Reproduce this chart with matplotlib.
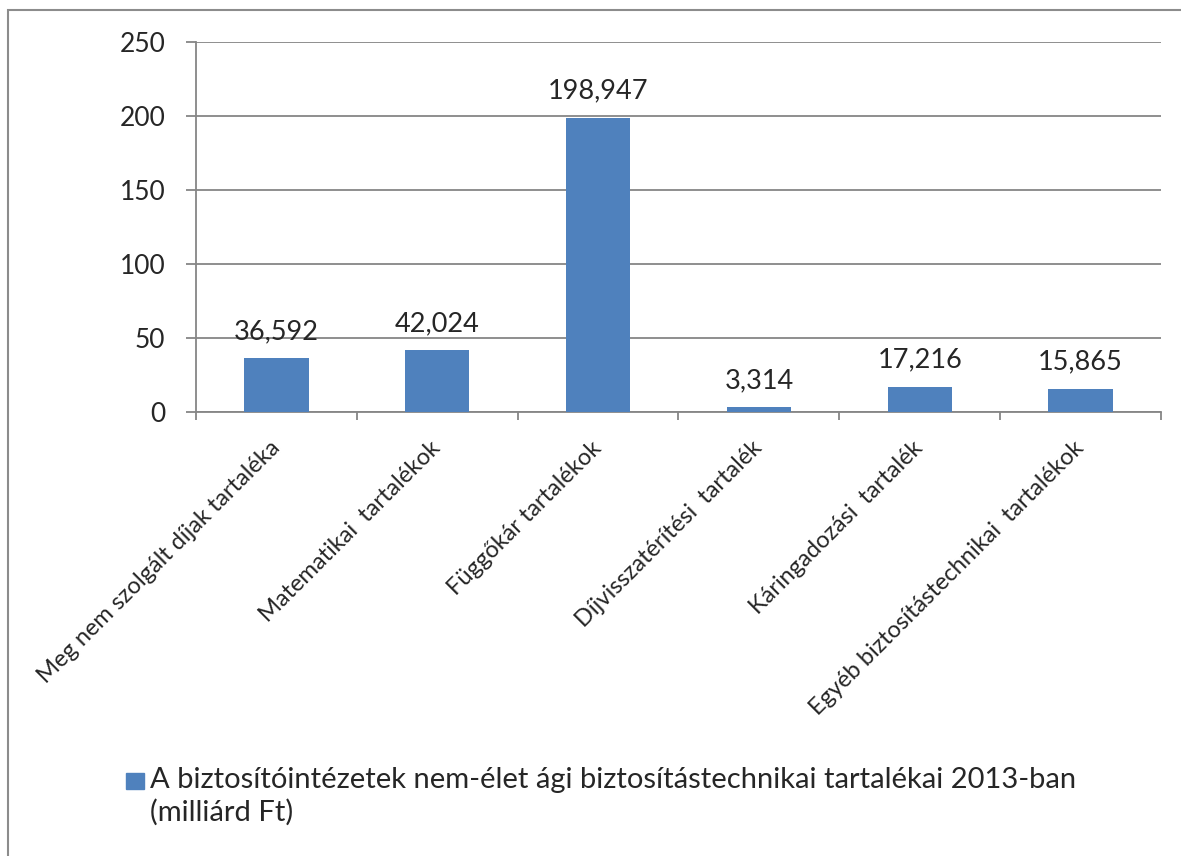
import matplotlib
matplotlib.use("Agg")
import matplotlib.pyplot as plt
from matplotlib.patches import Rectangle
import matplotlib.transforms as mtransforms

plt.rcParams["font.family"] = ["Lato", "DejaVu Sans"]

categories = [
    "Meg nem szolgált díjak tartaléka",
    "Matematikai  tartalékok",
    "Függőkár tartalékok",
    "Díjvisszatérítési  tartalék",
    "Káringadozási  tartalék",
    "Egyéb biztosítástechnikai  tartalékok",
]
values = [36.592, 42.024, 198.947, 3.314, 17.216, 15.865]
yticks = [0, 50, 100, 150, 200, 250]
legend_lines = [
    "A biztosítóintézetek nem-élet ági biztosítástechnikai tartalékai 2013-ban",
    "(milliárd Ft)",
]

bar_color = "#4F81BD"
grid_color = "#868686"
text_color = "#262626"

W, H = 1181, 856
fig = plt.figure(figsize=(W / 100, H / 100), dpi=100)
ax = fig.add_axes([196 / W, 1 - 412 / H, (1161 - 196) / W, 370 / H])

x = list(range(len(categories)))
bars = ax.bar(x, values, width=0.4, color=bar_color, zorder=3)

ax.set_xlim(-0.5, len(categories) - 0.5)
ax.set_ylim(0, 250)
ax.set_yticks(yticks)
ax.yaxis.grid(True, color=grid_color, linewidth=1.3, zorder=0)

for side in ["top", "right"]:
    ax.spines[side].set_visible(False)
for side in ["left", "bottom"]:
    ax.spines[side].set_color(grid_color)
    ax.spines[side].set_linewidth(1.3)

ax.tick_params(axis="y", direction="out", length=7, width=1.3, color=grid_color,
               labelsize=19, labelcolor=text_color, pad=15)

# tick marks sit on the category boundaries, labels at the centres
ax.set_xticks([i - 0.5 for i in range(len(categories) + 1)], minor=True)
ax.tick_params(axis="x", which="minor", direction="out", length=6, width=1.3, color=grid_color)
ax.set_xticks(x)
ax.tick_params(axis="x", which="major", length=0, pad=10)
ax.set_xticklabels(categories, rotation=45, ha="right", va="center",
                   rotation_mode="anchor", fontsize=17, color=text_color)
offset = mtransforms.ScaledTranslation(0, -19 / 100, fig.dpi_scale_trans)
for lbl in ax.get_xticklabels():
    lbl.set_transform(lbl.get_transform() + offset)

labels = [f"{v:.3f}".replace(".", ",") for v in values]
ax.bar_label(bars, labels=labels, padding=10, fontsize=19.5, color=text_color)

# legend
fig.patches.append(Rectangle((126 / W, 1 - 789 / H), 18 / W, 16 / H,
                             transform=fig.transFigure, color=bar_color))
for i, line in enumerate(legend_lines):
    fig.text(150 / W, 1 - (788 + 33 * i) / H, line, fontsize=21,
             color=text_color, va="baseline")

# outer chart border
fig.patches.append(Rectangle((8 / W, -0.1), 1.2, 1 - 10 / H + 0.1,
                             transform=fig.transFigure, fill=False,
                             edgecolor="#8C8C8C", linewidth=1.5))

fig.savefig("out.png", dpi=100)
